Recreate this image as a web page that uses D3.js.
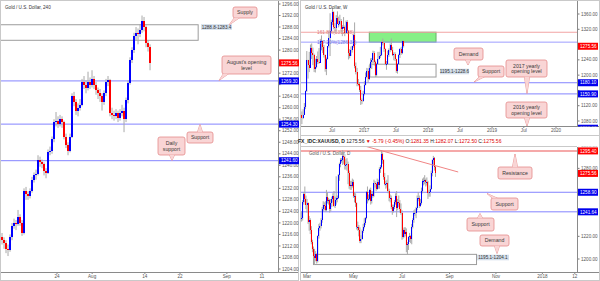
<!DOCTYPE html>
<html>
<head>
<meta charset="utf-8">
<script src="https://cdn.jsdelivr.net/npm/d3@7"></script>
<style>
  body { margin: 0; background: #fff; }
  svg { display: block; font-family: "Liberation Sans", Arial, sans-serif; }
</style>
</head>
<body>
<script>
// ---------- 240 (4h) panel, Jul 11 -> Aug 15 2017 ----------
const h4Open0 = 1215;
const h4Close = [1214,1213,1211,1210.5,1215,1219,1220,1219.5,1222,1220,1216.5,1231,1230,1229.5,1231,1235,1236.5,1237,1242,1241,1240.5,1238,1237.5,1244.5,1245,1249,1255,1255.5,1254.5,1256,1255,1250,1247,1245,1250,1264,1262,1259,1260,1261,1269,1268,1267,1269,1268,1270,1268,1266,1265,1264,1262,1265,1269,1269.5,1258,1257.5,1257,1258,1256.5,1258,1259,1256,1262.5,1268.5,1276.5,1280,1285,1286,1285.5,1287,1290,1288,1282.5,1281,1275.56];
const h4High = [1216.5,1215,1214,1212.5,1216,1220,1221.5,1221,1224.5,1223,1221,1232,1232.5,1231,1232,1236,1237.5,1238.5,1243.5,1243,1242,1241,1239,1245.5,1246.5,1250,1256,1258.5,1257,1257.5,1257,1255.5,1251,1248,1251,1265,1265.5,1263,1261.5,1263,1270,1271,1269.5,1272.5,1270.5,1273,1271,1269,1267,1266.5,1265,1266,1270,1271,1270,1260,1259,1259.5,1259,1259.5,1261,1260,1263.5,1269.5,1277.5,1281,1286,1288,1287.5,1289,1292,1291.5,1288.5,1283.5,1282];
const h4Low = [1212.5,1211,1209.5,1208.5,1210,1214,1218,1217.5,1219,1219,1215.5,1216,1228,1228,1228.5,1230.5,1234,1235,1236.5,1239.5,1239,1236.5,1235.5,1237,1243.5,1244,1248,1253.5,1253,1253.5,1253,1249,1246,1243.5,1244.5,1249.5,1260.5,1257.5,1257,1259,1260.5,1266.5,1265,1266,1266.5,1267,1266.5,1264.5,1263,1262,1259,1261,1264,1267.5,1257,1256,1255.5,1256,1255,1255.5,1257,1251.5,1255,1261.5,1268,1275.5,1279,1283.5,1282,1284.5,1286,1286.5,1281,1279.5,1273];
const h4TickLabels = ["24", "Aug", "14", "22", "Sep", "11"];
const h4TickDays = [9, 15, 24, 30, 38, 44];          // trading days after Jul 11
const h4PriceTicks = d3.range(1204, 1297, 4);
const h4Levels = [1269.30, 1254.30, 1241.60];
const h4Supply = [1283.4, 1288.8];

// ---------- weekly panel, Jan 2016 -> Aug 2017 ----------
const wOpen0 = 1061;
const wClose = [1097,1089,1096,1116,1158,1239,1227,1220,1271,1258,1254,1217,1222,1243,1234,1232,1290,1290,1273,1252,1215,1243,1275,1298,1315,1340,1366,1327,1323,1350,1335,1335,1341,1321,1327,1327,1310,1338,1316,1257,1251,1266,1275,1304,1225,1208,1178,1177,1160,1134,1132,1151,
  1173,1196,1210,1191,1220,1234,1239,1257,1234,1201,1229,1243,1249,1254,1287,1284,1268,1228,1228,1253,1267,1279,1266,1254,1256,1241,1212,1228,1254,1269,1258,1289,1275.56];
const wHigh = [1112,1105,1111,1127,1160,1263,1240,1261,1280,1283,1272,1256,1243,1250,1262,1271,1295,1304,1290,1279,1254,1246,1276,1315,1362,1345,1375,1367,1336,1357,1367,1353,1358,1347,1331,1352,1330,1343,1344,1318,1268,1275,1277,1308,1338,1233,1219,1190,1182,1172,1139,1159,
  1184,1207,1219,1218,1226,1244,1245,1264,1263,1238,1232,1261,1261,1274,1289,1296,1290,1270,1237,1264,1270,1283,1296,1274,1260,1260,1243,1231,1256,1271,1274,1291,1290];
const wLow = [1061,1072,1085,1096,1111,1156,1191,1208,1219,1242,1226,1208,1207,1218,1229,1230,1232,1265,1258,1246,1209,1200,1241,1272,1250,1310,1331,1320,1310,1314,1334,1325,1330,1313,1302,1321,1302,1308,1310,1241,1244,1250,1259,1272,1218,1202,1171,1171,1156,1122,1124,1130,
  1147,1173,1192,1180,1187,1218,1216,1232,1225,1195,1196,1227,1241,1245,1250,1278,1261,1226,1214,1227,1248,1260,1264,1250,1239,1237,1206,1204,1227,1245,1253,1255,1272.5];
const wTickLabels = ["Jul", "2017", "Jul", "2018", "Jul", "2019", "Jul", "2020"];
const wPriceTicks = [1080, 1120, 1160, 1200, 1240, 1280, 1320, 1360];
const wLevels = [1180.10, 1150.90, 1061.10];
const wFibs = [1312.28, 1286.33];
const wDemand = [1195.1, 1228.6];

// ---------- daily panel, Feb 21 -> Aug 15 2017 ----------
const dOpen0 = 1237;
const dClose = [1236,1236,1250,1257,
  1253,1248,1249,1233,1234, 1226,1215,1209,1203,1201, 1204,1198,1220,1227,1229, 1234,1244,1248,1247,1243,
  1255,1251,1252,1244,1249, 1253,1256,1247,1252,1254, 1254,1274,1284,1287,1287, 1291,1290,1283,1283,1284,
  1276,1264,1265,1264,1268, 1256,1256,1249,1228,1228, 1226,1216,1218,1225,1228, 1232,1236,1259,1253,1253,
  1261,1251,1257,1256,1267, 1266,1262,1268,1265,1279, 1281,1293,1287,1272,1266, 1266,1267,1260,1254,1254,
  1246,1242,1246,1250,1256, 1245,1250,1249,1244,1241, 1219,1226,1222,1224,1212, 1213,1219,1220,1218,1228,
  1234,1241,1241,1245,1254, 1254,1247,1249,1260,1269, 1269,1270,1268,1268,1258, 1259,1262,1276,1287,1289,
  1281.35,1275.56];
const dHigh = [1240,1242,1252,1259,
  1264,1256,1253,1250,1238, 1236,1229,1217,1211,1209, 1207,1205,1221,1231,1232, 1236,1246,1251,1250,1251,
  1261,1259,1254,1253,1253, 1255,1258,1260,1255,1273, 1256,1275,1285,1289,1289, 1296,1295,1291,1288,1289,
  1286,1278,1269,1269,1271, 1270,1259,1258,1250,1233, 1230,1228,1221,1226,1231, 1236,1237,1260,1264,1257,
  1262,1263,1260,1260,1270, 1269,1267,1271,1270,1281, 1283,1296,1294,1288,1276, 1269,1270,1274,1262,1257,
  1256,1248,1248,1252,1258, 1260,1253,1256,1252,1249, 1243,1227,1228,1228,1227, 1215,1220,1223,1221,1231,
  1236,1243,1244,1246,1256, 1259,1256,1253,1263,1271, 1272,1274,1271,1272,1269, 1261,1265,1278,1288,1291,
  1290,1282.07];
const dLow = [1232,1233,1234,1248,
  1250,1244,1241,1231,1225, 1222,1213,1206,1200,1195, 1198,1196,1197,1218,1225, 1227,1232,1242,1243,1242,
  1242,1249,1248,1241,1242, 1246,1250,1246,1245,1248, 1250,1253,1269,1281,1285, 1283,1284,1279,1279,1278,
  1266,1262,1261,1261,1263, 1254,1250,1246,1226,1225, 1220,1214,1214,1217,1223, 1227,1230,1235,1249,1251,
  1252,1248,1249,1254,1255, 1263,1260,1261,1262,1262, 1276,1280,1284,1270,1265, 1262,1263,1258,1251,1250,
  1244,1239,1241,1244,1248, 1237,1243,1246,1241,1239, 1217,1218,1219,1220,1206, 1204,1208,1215,1214,1213,
  1227,1232,1238,1236,1243, 1251,1245,1246,1248,1258, 1265,1266,1264,1265,1253, 1255,1255,1261,1273,1282,
  1278,1272.50];
const dTickLabels = ["Mar", "May", "Jul", "Sep", "Nov", "2018", "12"];
const dTickDates = ["2017-03-01", "2017-05-01", "2017-07-03", "2017-09-01", "2017-11-01", "2018-01-01", "2018-02-12"];
const dPriceTicks = [1200, 1220, 1240, 1260, 1280, 1300];
const dLevels = [1258.90, 1241.64];
const dResistance = 1295.40;
const dDemand = [1195.1, 1204.1];
const dTrend = [["2017-05-10", 1300.6], ["2017-09-13", 1276.8]];

const lastPrice = 1275.56;

// ---------- colours ----------
const UP = "#0000ff", DOWN = "#ff0000", WICK = "#a9a9a9";
const LEVEL = "#8484ff", AXIS_TXT = "#555";
const PINK = "#f9d5d5", PINK_LINE = "#e48c8c";

const parse = d3.timeParse("%Y-%m-%d");

const svg = d3.select("body").append("svg")
  .attr("width", 600)
  .attr("height", 281);
const defs = svg.append("defs");

function clip(id, x, y, w, h) {
  defs.append("clipPath").attr("id", id)
    .append("rect").attr("x", x).attr("y", y).attr("width", w).attr("height", h);
  return "url(#" + id + ")";
}

// frames
svg.append("rect").attr("x", 0.5).attr("y", 0.5).attr("width", 298).attr("height", 280)
  .attr("fill", "#fff").attr("stroke", "#c9c9c9");
svg.append("rect").attr("x", 300.5).attr("y", 0.5).attr("width", 299).attr("height", 280)
  .attr("fill", "#fff").attr("stroke", "#c9c9c9");

function frameLines(ax, top, bottom, left, right) {
  svg.append("line").attr("x1", ax + 0.5).attr("x2", ax + 0.5).attr("y1", top).attr("y2", bottom + 0.5)
    .attr("stroke", "#8a8a8a");
  svg.append("line").attr("x1", left).attr("x2", right).attr("y1", bottom + 0.5).attr("y2", bottom + 0.5)
    .attr("stroke", "#8a8a8a");
}
frameLines(278, 1, 272, 1, 298);
frameLines(577, 1, 126, 301, 599);
frameLines(577, 147, 272, 301, 599);
svg.append("line").attr("x1", 301).attr("x2", 599).attr("y1", 135.5).attr("y2", 135.5).attr("stroke", "#c9c9c9");
svg.append("line").attr("x1", 301).attr("x2", 577).attr("y1", 146.5).attr("y2", 146.5).attr("stroke", "#c9c9c9");

function makeBars(open0, close, high, low, pos) {
  return close.map((c, i) => {
    const o = i ? close[i - 1] : open0;
    return { x: pos(i), o: o, c: c, h: Math.max(high[i], o, c), l: Math.min(low[i], o, c) };
  });
}

function drawCandles(g, bars, y, bw) {
  g.selectAll(null).data(bars).join("rect")
    .attr("x", d => d.x - 0.5)
    .attr("y", d => y(d.h))
    .attr("width", 1)
    .attr("height", d => Math.max(0.5, y(d.l) - y(d.h)))
    .attr("fill", WICK);
  g.selectAll(null).data(bars).join("rect")
    .attr("x", d => d.x - bw / 2)
    .attr("y", d => y(Math.max(d.o, d.c)))
    .attr("width", bw)
    .attr("height", d => Math.max(1, Math.abs(y(d.o) - y(d.c))))
    .attr("fill", d => d.c >= d.o ? UP : DOWN)
    .attr("shape-rendering", "crispEdges");
}

function hLine(g, y, v, x1, x2, color, sw) {
  g.append("line").attr("x1", x1).attr("x2", x2).attr("y1", y(v)).attr("y2", y(v))
    .attr("stroke", color).attr("stroke-width", sw || 1);
}

function zone(g, x1, x2, y1, y2, fill, stroke) {
  g.append("rect").attr("x", x1).attr("y", y1).attr("width", x2 - x1).attr("height", y2 - y1)
    .attr("fill", fill).attr("stroke", stroke).attr("stroke-width", 1);
}

function rangeLabel(g, x, yc, w, txt) {
  g.append("rect").attr("x", x).attr("y", yc - 2.8).attr("width", w).attr("height", 5.6).attr("fill", "#d3dfec");
  g.append("text").attr("x", x + w / 2).attr("y", yc + 1.7).attr("text-anchor", "middle")
    .attr("font-size", 4.6).attr("fill", "#333").text(txt);
}

function priceAxis(ax, y, ticks, boxes, clipId, cy, ch) {
  const g = svg.append("g").attr("clip-path", clip(clipId, ax + 1, cy, 22, ch));
  ticks.forEach(v => {
    g.append("line").attr("x1", ax + 1).attr("x2", ax + 2.5).attr("y1", y(v)).attr("y2", y(v)).attr("stroke", "#777");
    // labels under a price box are hidden, as on the chart
    const covered = boxes.some(b => Math.abs(y(b.v) - y(v)) < 4.5);
    if (!covered) {
      g.append("text").attr("x", ax + 4).attr("y", y(v) + 1.6).attr("font-size", 4.6)
        .attr("fill", AXIS_TXT).text(v.toFixed(2));
    }
  });
  boxes.forEach(b => {
    g.append("rect").attr("x", ax + 1).attr("y", y(b.v) - 3.5).attr("width", 20).attr("height", 7).attr("fill", b.c);
    g.append("text").attr("x", ax + 3).attr("y", y(b.v) + 1.7).attr("font-size", 4.6)
      .attr("fill", "#fff").text(b.v.toFixed(2));
  });
}

function timeAxis(xs, labels, yAxis) {
  xs.forEach((x, i) => {
    svg.append("line").attr("x1", x).attr("x2", x).attr("y1", yAxis).attr("y2", yAxis + 1.5).attr("stroke", "#888");
    svg.append("text").attr("x", x).attr("y", yAxis + 5.8).attr("text-anchor", "middle")
      .attr("font-size", 4.6).attr("fill", AXIS_TXT).text(labels[i]);
  });
}

function callout(g, bx, by, bw, bh, tx, ty, lines) {
  let base;
  const c = Math.max(bx + 4, Math.min(bx + bw - 4, tx));
  if (ty > by + bh) {
    base = [[c - 2.6, by + bh - 0.3], [c + 2.6, by + bh - 0.3]];
  } else {
    base = [[c - 2.6, by + 0.3], [c + 2.6, by + 0.3]];
  }
  const tri = [base[0], [tx, ty], base[1]];
  g.append("path").attr("d", d3.line()(tri)).attr("fill", PINK).attr("stroke", PINK_LINE).attr("stroke-width", 0.8);
  g.append("rect").attr("x", bx).attr("y", by).attr("width", bw).attr("height", bh).attr("rx", 2)
    .attr("fill", PINK).attr("stroke", PINK_LINE).attr("stroke-width", 0.8);
  g.append("path").attr("d", d3.line()(tri) + "Z").attr("fill", PINK);
  const lh = 5.6;
  const y0 = by + bh / 2 - (lines.length - 1) * lh / 2 + 1.8;
  lines.forEach((t, i) => {
    g.append("text").attr("x", bx + bw / 2).attr("y", y0 + i * lh).attr("text-anchor", "middle")
      .attr("font-size", 5.2).attr("fill", "#3a3a3a").text(t);
  });
}

// ======================= 240 panel =======================
const hx = d3.scaleLinear().domain([0, 44]).range([4.3, 262]);
const hy = d3.scaleLinear().domain([1204, 1296]).range([269, 4]);
const h4Bars = makeBars(h4Open0, h4Close, h4High, h4Low, i => hx(-0.39 + i * 0.3415));

const g1 = svg.append("g").attr("clip-path", clip("p1", 1, 1, 277, 271));
zone(g1, -5, hx(33.1), hy(h4Supply[1]), hy(h4Supply[0]), "#fff", "#9c9c9c");
h4Levels.forEach(v => hLine(g1, hy, v, 1, 278, LEVEL));
drawCandles(g1, h4Bars, hy, 1.6);
rangeLabel(g1, 201, 27, 31, "1288.8-1283.4");
g1.append("text").attr("x", 5).attr("y", 9).attr("font-size", 4.6).attr("fill", "#333").text("Gold / U.S. Dollar, 240");
callout(g1, 233, 7, 24, 11, 229, 25, ["Supply"]);
callout(g1, 222, 56, 49, 18, 219, 80.5, ["August's opening", "level"]);
callout(g1, 187, 132, 26, 11, 200, 124.5, ["Support"]);
callout(g1, 158, 137, 27, 18, 172, 160.5, ["Daily", "support"]);

priceAxis(278, hy, h4PriceTicks,
  [{ v: lastPrice, c: "#ff0000" }].concat(h4Levels.map(v => ({ v: v, c: "#0000ee" }))),
  "a1", 1, 271);
timeAxis(h4TickDays.map(hx), h4TickLabels, 272.5);

// ======================= weekly panel =======================
const wx = d3.scaleTime().domain([new Date(2016, 6, 1), new Date(2020, 0, 1)]).range([332, 556]);
const wy = d3.scaleLinear().domain([1080, 1360]).range([121, 14]);
const wDates = d3.timeMonday.range(new Date(2016, 0, 4), new Date(2017, 7, 15));
const wBars = makeBars(wOpen0, wClose, wHigh, wLow, i => wx(wDates[i]));

const g2 = svg.append("g").attr("clip-path", clip("p2", 301, 1, 276, 125));
zone(g2, wx(new Date(2017, 0, 30)), wx(new Date(2018, 1, 15)), wy(wFibs[0]), wy(wFibs[1]), "#86f086", "#6cae6c");
zone(g2, wx(new Date(2017, 1, 2)), wx(new Date(2018, 1, 15)), wy(wDemand[1]), wy(wDemand[0]), "#fff", "#9c9c9c");
hLine(g2, wy, wFibs[0], 301, 577, "#f2a3a3", 1.2);
hLine(g2, wy, wFibs[1], 301, 577, "#9d9dff", 1);
wLevels.forEach(v => hLine(g2, wy, v, 301, 577, LEVEL));
drawCandles(g2, wBars, wy, 1);
g2.append("text").attr("x", 317).attr("y", wy(wFibs[0]) + 1.7).attr("font-size", 4.8).attr("fill", "#e07a7a").text("161.8%(1312.28)");
g2.append("text").attr("x", 317).attr("y", wy(wFibs[1]) + 1.7).attr("font-size", 4.8).attr("fill", "#7474e8").text("127.20%(1286.33)");
rangeLabel(g2, 440, 71.5, 29, "1195.1-1228.6");
g2.append("text").attr("x", 305).attr("y", 9).attr("font-size", 4.6).attr("fill", "#333").text("Gold / U.S. Dollar, W");
callout(g2, 454, 48, 29, 12, 468, 65, ["Demand"]);
callout(g2, 478, 66, 26, 11, 474, 82, ["Support"]);
callout(g2, 506, 60, 41, 17, 527, 93.5, ["2017 yearly", "opening level"]);
callout(g2, 506, 102, 41, 16, 527, 126, ["2016 yearly", "opening level"]);

priceAxis(577, wy, wPriceTicks,
  [{ v: lastPrice, c: "#ff0000" }].concat(wLevels.map(v => ({ v: v, c: "#0000ee" }))),
  "a2", 1, 125.5);
timeAxis(d3.timeMonth.every(6).range(new Date(2016, 6, 1), new Date(2020, 0, 2)).map(wx), wTickLabels, 126.5);

// ======================= daily panel =======================
const dStart = new Date(2017, 1, 21);
function wdIndex(date) {
  return d3.timeDay.range(dStart, date).filter(d => d.getDay() % 6 !== 0).length;
}
const dDates = d3.timeDay.range(dStart, new Date(2017, 7, 16)).filter(d => d.getDay() % 6 !== 0);
const dx = d3.scaleLinear().domain([6, 224]).range([307, 542.4]);
const dy = d3.scaleLinear().domain([1200, 1300]).range([259, 145.7]);
const dBars = makeBars(dOpen0, dClose, dHigh, dLow, i => dx(wdIndex(dDates[i])));

const g3 = svg.append("g").attr("clip-path", clip("p3", 301, 147, 276, 125));
zone(g3, dx(wdIndex(parse("2017-03-09"))), dx(wdIndex(parse("2017-10-06"))), dy(dDemand[1]), dy(dDemand[0]), "#fff", "#9c9c9c");
hLine(g3, dy, dResistance, 301, 577, "#f5a9a9", 2);
dLevels.forEach(v => hLine(g3, dy, v, 301, 577, LEVEL));
g3.append("text").attr("x", 309).attr("y", 155).attr("font-size", 4.6).attr("fill", "#555").text("Gold / U.S. Dollar, D");
drawCandles(g3, dBars, dy, 1);
g3.append("line")
  .attr("x1", dx(wdIndex(parse(dTrend[0][0])))).attr("y1", dy(dTrend[0][1]))
  .attr("x2", dx(wdIndex(parse(dTrend[1][0])))).attr("y2", dy(dTrend[1][1]))
  .attr("stroke", "#f08585").attr("stroke-width", 1);
rangeLabel(g3, 477, 257.5, 32, "1195.1-1204.1");
callout(g3, 498, 167, 34, 12, 515, 154, ["Resistance"]);
callout(g3, 491, 198, 27, 12, 487, 193.5, ["Support"]);
callout(g3, 467, 218, 27, 13, 480, 213.5, ["Support"]);
callout(g3, 480, 235, 29, 11, 497, 253.5, ["Demand"]);

priceAxis(577, dy, dPriceTicks,
  [{ v: dResistance, c: "#ff0000" }, { v: lastPrice, c: "#ff0000" }].concat(dLevels.map(v => ({ v: v, c: "#0000ee" }))),
  "a3", 146.5, 126);
timeAxis(dTickDates.map(s => dx(wdIndex(parse(s)))), dTickLabels, 272.5);

// header line above daily chart
const header = svg.append("text").attr("x", 298).attr("y", 142.8).attr("font-size", 5);
[["FX_IDC:XAUUSD, D ", "#222", "bold"], ["1275.56 ", "#222"], ["▼ -5.79 (-0.45%) ", "#e00000"],
 ["O:", "#222"], ["1281.35 ", "#e00000"], ["H:", "#222"], ["1282.07 ", "#e00000"],
 ["L:", "#222"], ["1272.50 ", "#e00000"], ["C:", "#222"], ["1275.56", "#e00000"]]
  .forEach(s => {
    header.append("tspan").attr("fill", s[1]).attr("font-weight", s[2] || "normal").text(s[0]);
  });
</script>
</body>
</html>
